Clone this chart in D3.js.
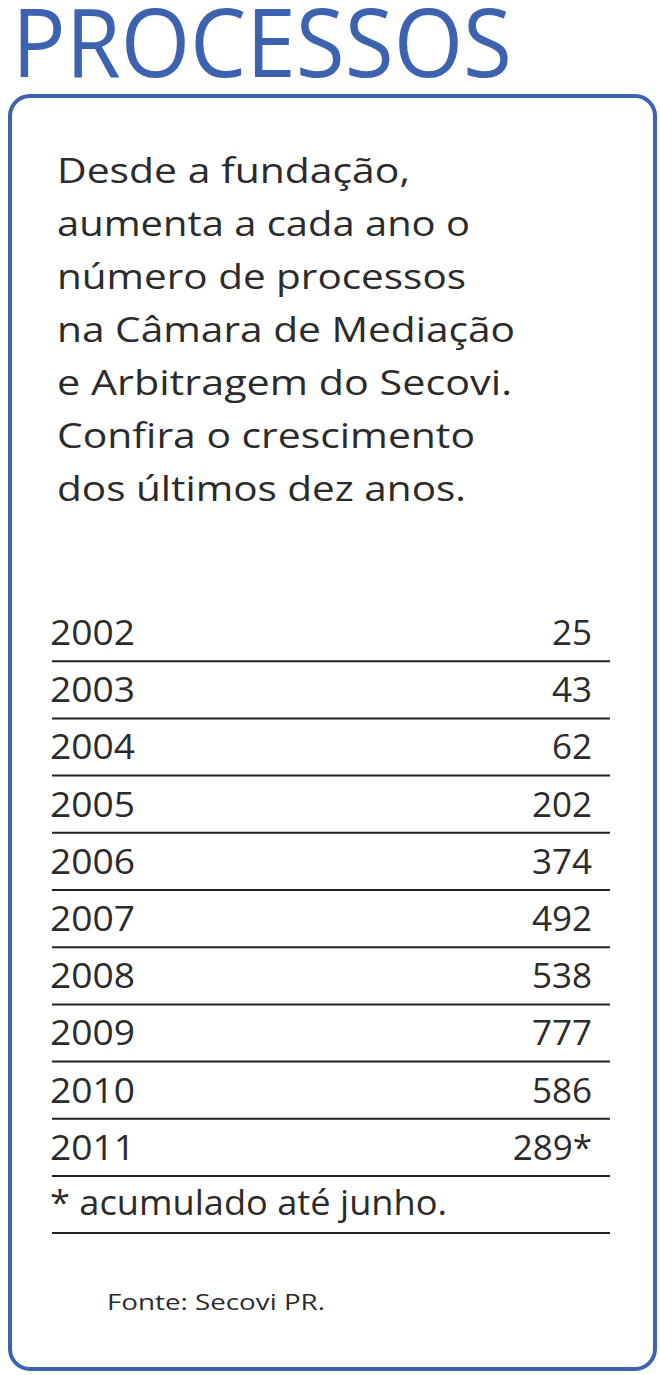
<!DOCTYPE html>
<html><head><meta charset="utf-8">
<script src="https://cdn.jsdelivr.net/npm/d3@7"></script>
<style>body{margin:0;background:#fff}</style>
</head><body>
<svg width="660" height="1375"></svg>
<script>
var years = ["2002","2003","2004","2005","2006","2007","2008","2009","2010","2011"];
var values = ["25","43","62","202","374","492","538","777","586","289*"];
var intro = ["Desde a fundação,","aumenta a cada ano o","número de processos","na Câmara de Mediação","e Arbitragem do Secovi.","Confira o crescimento","dos últimos dez anos."];
var introWidths = [353,413,409,458,455,418,409];

var svg = d3.select("svg");
var blue = "#3d62b0", ink = "#2b2b2b";
var font = "'Open Sans', sans-serif";

svg.append("text").attr("x", 12).attr("y", 77)
  .attr("font-family", font).attr("font-size", 96).attr("fill", blue)
  .attr("textLength", 500).attr("lengthAdjust", "spacingAndGlyphs")
  .text("PROCESSOS");

svg.append("rect").attr("x", 10).attr("y", 96).attr("width", 645).attr("height", 1273)
  .attr("rx", 20).attr("fill", "none").attr("stroke", blue).attr("stroke-width", 4);

svg.selectAll(".intro").data(intro).enter().append("text")
  .attr("x", 57).attr("y", function(d, i) { return 183 + i * 53; })
  .attr("font-family", font).attr("font-size", 35).attr("fill", ink)
  .attr("textLength", function(d, i) { return introWidths[i]; })
  .attr("lengthAdjust", "spacingAndGlyphs")
  .text(function(d) { return d; });

// table rows
var y = d3.scaleBand().domain(years).range([604, 1176]);
var rows = svg.selectAll(".row").data(years).enter().append("g")
  .attr("transform", function(d) { return "translate(0," + y(d) + ")"; });
rows.append("text").attr("x", 50).attr("y", 41)
  .attr("font-family", font).attr("font-size", 35).attr("fill", ink)
  .attr("textLength", 85).attr("lengthAdjust", "spacingAndGlyphs")
  .text(function(d) { return d; });
rows.append("text").attr("x", 592).attr("y", 41).attr("text-anchor", "end")
  .attr("font-family", font).attr("font-size", 35).attr("fill", ink)
  .text(function(d, i) { return values[i]; });
rows.append("line").attr("x1", 52).attr("x2", 610)
  .attr("y1", y.bandwidth()).attr("y2", y.bandwidth())
  .attr("stroke", "#222").attr("stroke-width", 2);

svg.append("text").attr("x", 50).attr("y", 1215)
  .attr("font-family", font).attr("font-size", 35).attr("fill", ink)
  .attr("textLength", 397).attr("lengthAdjust", "spacingAndGlyphs")
  .text("* acumulado até junho.");
svg.append("line").attr("x1", 52).attr("x2", 610).attr("y1", 1233).attr("y2", 1233)
  .attr("stroke", "#222").attr("stroke-width", 2);

svg.append("text").attr("x", 107).attr("y", 1310)
  .attr("font-family", font).attr("font-size", 22).attr("fill", ink)
  .attr("textLength", 218).attr("lengthAdjust", "spacingAndGlyphs")
  .text("Fonte: Secovi PR.");
</script>
</body></html>
